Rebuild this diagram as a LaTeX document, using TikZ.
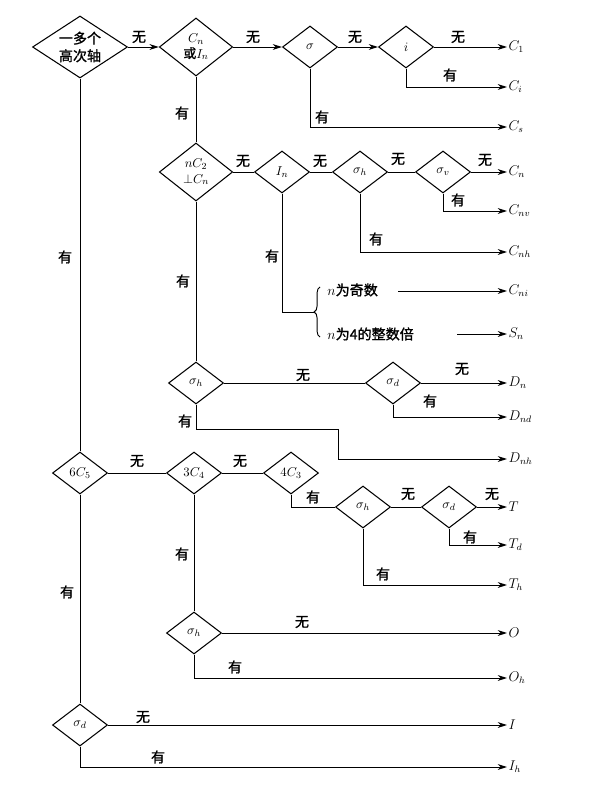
\documentclass[tikz,border=0pt]{standalone}
\usepackage{fontspec}
\usepackage{amsmath,amssymb}
\newfontfamily\cjk{Noto Sans CJK SC}[FakeBold=1.2]
\usetikzlibrary{arrows.meta,shapes.geometric,decorations.pathreplacing}

\tikzset{
  dia/.style={diamond,draw,line width=0.9pt,inner sep=0pt,aspect=1.3,
    minimum width=1.65cm,minimum height=1.26cm,font=\cjk\fontsize{11}{13}\selectfont},
  bigdia/.style={dia,aspect=1.5,minimum width=2.85cm,minimum height=1.86cm,
    align=center,font=\cjk\fontsize{12}{15}\selectfont},
  middia/.style={dia,minimum width=2.2cm,minimum height=1.74cm,align=center},
  lab/.style={font=\cjk\fontsize{12}{14}\selectfont,inner sep=0pt},
  grp/.style={anchor=west,inner sep=1pt,font=\fontsize{12}{14}\selectfont},
  arr/.style={-{Stealth[length=8pt,width=5pt]}},
}

\begin{document}
\begin{tikzpicture}[x=0.03cm,y=-0.03cm,line width=0.8pt]
  \useasboundingbox (0,0) rectangle (615,795);
  % decision diamonds
  \node[bigdia] (hi) at (80,47) {一多个\\高次轴};
  \node[middia] (cnin) at (196,47) {$C_n$\\或$I_n$};
  \node[dia] (sg) at (310,47) {$\sigma$};
  \node[dia] (inv) at (406,47) {$i$};
  \node[middia] (nc2) at (196,172) {$nC_2$\\${\perp}C_n$};
  \node[dia] (in) at (282,172) {$I_n$};
  \node[dia] (sh1) at (360,172) {$\sigma_h$};
  \node[dia] (sv) at (443,172) {$\sigma_v$};
  \node[dia] (sh2) at (196,383) {$\sigma_h$};
  \node[dia] (sd2) at (393,383) {$\sigma_d$};
  \node[dia] (c5) at (80,473) {$6C_5$};
  \node[dia] (c4) at (194,473) {$3C_4$};
  \node[dia] (c3) at (291,473) {$4C_3$};
  \node[dia] (sh3) at (363,507) {$\sigma_h$};
  \node[dia] (sd3) at (449,507) {$\sigma_d$};
  \node[dia] (sh4) at (194,633) {$\sigma_h$};
  \node[dia] (sd4) at (80,725) {$\sigma_d$};
  % point groups
  \node[grp] (gC1) at (507,47) {$C_1$};
  \node[grp] (gCi) at (507,87) {$C_i$};
  \node[grp] (gCs) at (507,127) {$C_s$};
  \node[grp] (gCn) at (507,172) {$C_n$};
  \node[grp] (gCnv) at (507,211) {$C_{nv}$};
  \node[grp] (gCnh) at (507,252) {$C_{nh}$};
  \node[grp] (gCni) at (507,291) {$C_{ni}$};
  \node[grp] (gSn) at (507,334) {$S_n$};
  \node[grp] (gDn) at (507,383) {$D_n$};
  \node[grp] (gDnd) at (507,417) {$D_{nd}$};
  \node[grp] (gDnh) at (507,459) {$D_{nh}$};
  \node[grp] (gT) at (507,507) {$T$};
  \node[grp] (gTd) at (507,545) {$T_d$};
  \node[grp] (gTh) at (507,585) {$T_h$};
  \node[grp] (gO) at (507,633) {$O$};
  \node[grp] (gOh) at (507,678) {$O_h$};
  \node[grp] (gI) at (507,725) {$I$};
  \node[grp] (gIh) at (507,767) {$I_h$};
  % the two cases of I_n
  \node[lab,anchor=west] (odd) at (327,290) {$n$为奇数};
  \node[lab,anchor=west] (m4) at (327,334) {$n$为4的整数倍};
  \coordinate (brlo) at (320,337);
  \coordinate (brhi) at (320,287);
  \coordinate (brtip) at (314,312);
  \coordinate (oddgo) at (398,291);
  \coordinate (m4go) at (457,334);
  \coordinate (kink) at (338,429);
  % connectors
  \draw[arr] (hi) -- (cnin);
  \draw[arr] (cnin) -- (sg);
  \draw[arr] (sg) -- (inv);
  \draw[arr] (inv.east) -- (gC1.west);
  \draw[arr] (inv.south) |- (gCi.west);
  \draw[arr] (sg.south) |- (gCs.west);
  \draw (cnin) -- (nc2);
  \draw (nc2) -- (in) -- (sh1) -- (sv);
  \draw[arr] (sv.east) -- (gCn.west);
  \draw[arr] (sv.south) |- (gCnv.west);
  \draw[arr] (sh1.south) |- (gCnh.west);
  \draw (in.south) |- (brtip);
  \draw[decorate,decoration={brace,amplitude=5pt}] (brlo) -- (brhi);
  \draw[arr] (oddgo) -- (gCni.west);
  \draw[arr] (m4go) -- (gSn.west);
  \draw (nc2) -- (sh2);
  \draw (sh2) -- (sd2);
  \draw[arr] (sd2.east) -- (gDn.west);
  \draw[arr] (sd2.south) |- (gDnd.west);
  \draw[arr] (sh2.south) |- (kink) |- (gDnh.west);
  \draw (hi) -- (c5);
  \draw (c5) -- (c4) -- (c3);
  \draw (c3.south) |- (sh3.west);
  \draw (sh3) -- (sd3);
  \draw[arr] (sd3.east) -- (gT.west);
  \draw[arr] (sd3.south) |- (gTd.west);
  \draw[arr] (sh3.south) |- (gTh.west);
  \draw (c4) -- (sh4);
  \draw[arr] (sh4.east) -- (gO.west);
  \draw[arr] (sh4.south) |- (gOh.west);
  \draw (c5) -- (sd4);
  \draw[arr] (sd4.east) -- (gI.west);
  \draw[arr] (sd4.south) |- (gIh.west);
  % yes / no labels
  \node[lab] (wu1) at (139,37) {无};
  \node[lab] (wu2) at (253,37) {无};
  \node[lab] (wu3) at (355,37) {无};
  \node[lab] (wu4) at (458,37) {无};
  \node[lab] (you1) at (450,75) {有};
  \node[lab] (you2) at (322,117) {有};
  \node[lab] (you3) at (182,113) {有};
  \node[lab] (you4) at (65,257) {有};
  \node[lab] (wu5) at (243,161) {无};
  \node[lab] (wu6) at (320,161) {无};
  \node[lab] (wu7) at (398,159) {无};
  \node[lab] (wu8) at (485,160) {无};
  \node[lab] (you5) at (458,200) {有};
  \node[lab] (you6) at (376,239) {有};
  \node[lab] (you7) at (272,256) {有};
  \node[lab] (you8) at (183,281) {有};
  \node[lab] (wu9) at (303,375) {无};
  \node[lab] (wu10) at (462,369) {无};
  \node[lab] (you9) at (430,401) {有};
  \node[lab] (you10) at (185,421) {有};
  \node[lab] (wu11) at (137,461) {无};
  \node[lab] (wu12) at (240,461) {无};
  \node[lab] (you11) at (313,497) {有};
  \node[lab] (wu13) at (408,494) {无};
  \node[lab] (wu14) at (492,494) {无};
  \node[lab] (you12) at (470,537) {有};
  \node[lab] (you13) at (383,574) {有};
  \node[lab] (you14) at (182,554) {有};
  \node[lab] (you15) at (67,592) {有};
  \node[lab] (wu15) at (302,622) {无};
  \node[lab] (you16) at (235,667) {有};
  \node[lab] (wu16) at (143,717) {无};
  \node[lab] (you17) at (158,757) {有};
\end{tikzpicture}
\end{document}
